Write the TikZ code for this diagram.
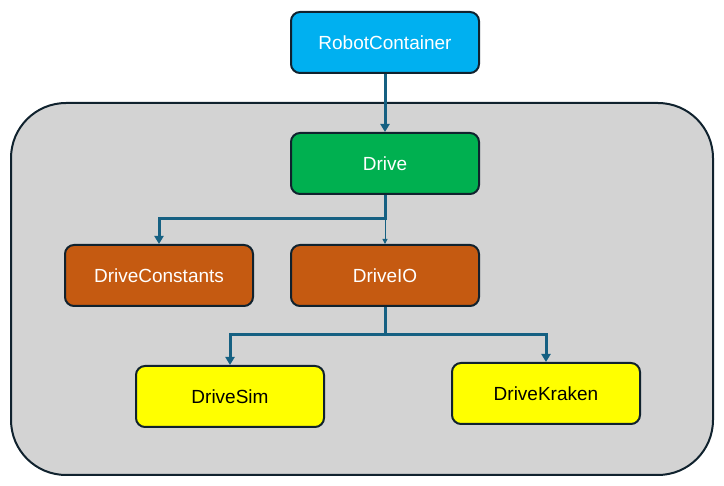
\documentclass[tikz,border=0pt]{standalone}
\usepackage{fontspec}
\setmainfont{Liberation Sans}
\usepackage{tikz}
\usetikzlibrary{arrows.meta}
\usetikzlibrary{positioning}

\definecolor{rcblue}{HTML}{00B0F0}
\definecolor{drivegreen}{HTML}{00B050}
\definecolor{iorange}{HTML}{C55A11}
\definecolor{implyellow}{HTML}{FFFF00}
\definecolor{boxline}{HTML}{10222E}
\definecolor{wireblue}{HTML}{156082}
\definecolor{subgray}{HTML}{D3D3D3}

\begin{document}
\begin{tikzpicture}[x=1pt, y=-1pt, node distance=58pt, line width=2pt,
	>={Triangle[length=8pt,width=9pt]},
	box/.style={draw=boxline, rounded corners=9pt, minimum width=188pt, minimum height=61pt, font=\fontsize{19}{23}\selectfont, text=white},
	wire/.style={draw=wireblue, line width=3pt}]
	\useasboundingbox (0,0) rectangle (724,486);
	
	\node[draw=boxline, fill=subgray, rounded corners=55pt, minimum width=702pt, minimum height=372pt] (subsys) at (362,289) {};
	
	\node[box, fill=rcblue] (rc) at (385,42.5) {RobotContainer};
	\node[box, fill=drivegreen] (drive) [below = 58pt of rc] {Drive};
	\node[box, fill=iorange] (dio) [below = 49pt of drive] {DriveIO};
	\node[box, fill=iorange] (dconst) [left = 36pt of dio] {DriveConstants};
	\node[box, fill=implyellow, text=black] (dsim) [below = 58pt of dio, xshift=-155pt] {DriveSim};
	\node[box, fill=implyellow, text=black] (dkraken) [below = 55pt of dio, xshift=161pt] {DriveKraken};
	
	\coordinate (split1) at (385,219);
	\coordinate (split2) at (385,335);
	
	\draw[wire, ->] (rc) -- (drive);
	\draw[wire, ->] (drive) -- (split1) -| (dconst);
	\draw[draw=wireblue, line width=1pt, -{Triangle[length=5pt,width=5pt]}] (split1) -- (dio);
	\draw[wire, ->] (dio) -- (split2) -| (dsim);
	\draw[wire, ->] (split2) -| (dkraken);
\end{tikzpicture}
\end{document}
